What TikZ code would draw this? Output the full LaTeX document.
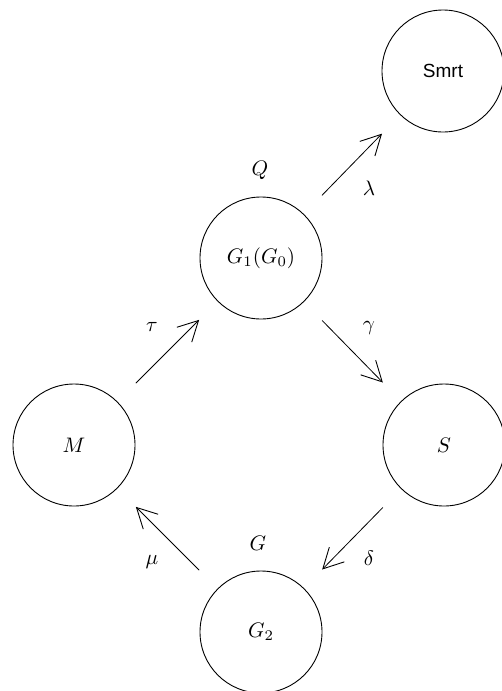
\documentclass[tikz,border=0pt]{standalone}
\usepackage{graphicx}
\usepackage{fontspec}
\newfontfamily\smrtfont{Liberation Sans}
\usetikzlibrary{arrows.meta}
\newcommand{\bigtxt}[1]{\scalebox{2.1}{#1}}
\begin{document}
\begin{tikzpicture}[x=1pt,y=-1pt,
  state/.style={draw, circle, line width=0.9pt, minimum size=122pt, inner sep=0pt},
  lbl/.style={inner sep=0pt},
  arr/.style={line width=0.8pt, -{Straight Barb[length=20pt,width=21pt,line width=0.9pt]}, shorten <=26pt, shorten >=26pt}]
\useasboundingbox (0,0) rectangle (502,691);
\node[state] (smrt) at (443,71) {\smrtfont\fontsize{19}{23}\selectfont Smrt};
\node[state] (g1) at (261,258) {\bigtxt{$G_1(G_0)$}};
\node[state] (m) at (74,445) {\bigtxt{$M$}};
\node[state] (s) at (444,445) {\bigtxt{$S$}};
\node[state] (g2) at (261,632) {\bigtxt{$G_2$}};
\draw[arr] (g1) -- (smrt);
\draw[arr] (g1) -- (s);
\draw[arr] (m) -- (g1);
\draw[arr] (s) -- (g2);
\draw[arr] (g2) -- (m);
\node[lbl] (lq) at (260,170) {\bigtxt{$Q$}};
\node[lbl] (lg) at (258,543) {\bigtxt{$G$}};
\node[lbl] (ltau) at (152,327) {\bigtxt{$\tau$}};
\node[lbl] (lgam) at (369,328) {\bigtxt{$\gamma$}};
\node[lbl] (llam) at (369,188) {\bigtxt{$\lambda$}};
\node[lbl] (lmu) at (152,562) {\bigtxt{$\mu$}};
\node[lbl] (ldel) at (369,558) {\bigtxt{$\delta$}};
\end{tikzpicture}
\end{document}
